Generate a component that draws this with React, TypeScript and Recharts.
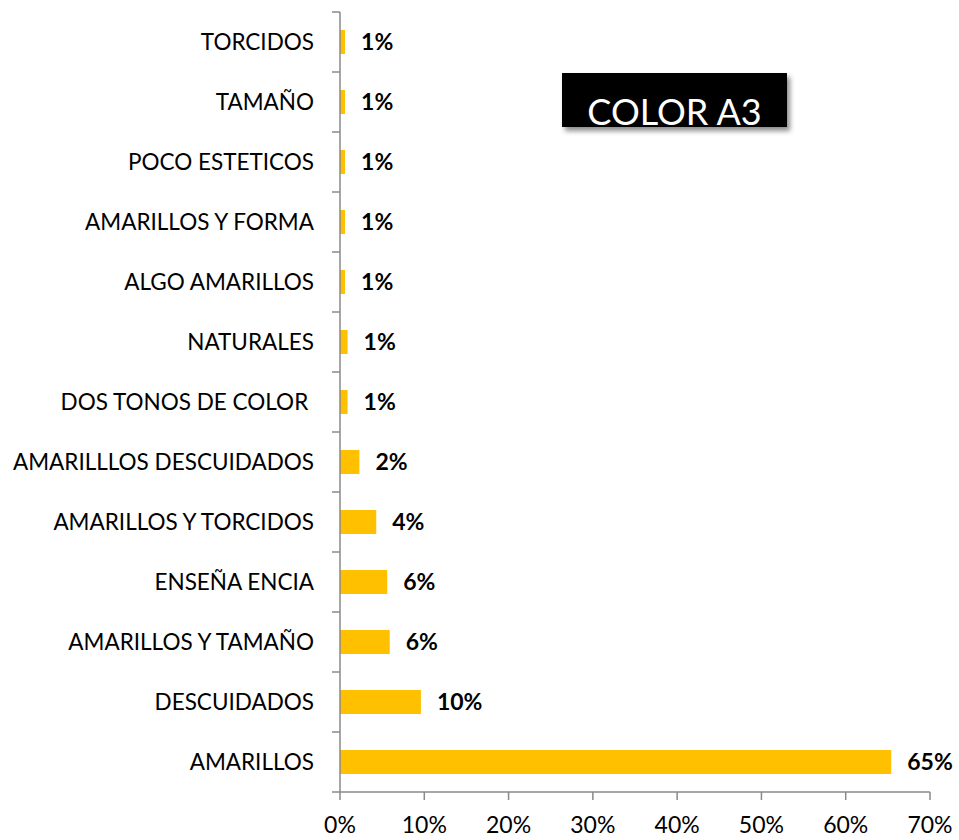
import { BarChart, Bar, XAxis, YAxis, LabelList } from 'recharts';

// ── Data (top to bottom as drawn) ─────────────────────────────────────────────

const CATEGORIES = [
  'TORCIDOS',
  'TAMAÑO',
  'POCO ESTETICOS',
  'AMARILLOS Y FORMA',
  'ALGO AMARILLOS',
  'NATURALES',
  'DOS TONOS DE COLOR ',
  'AMARILLLOS DESCUIDADOS',
  'AMARILLOS Y TORCIDOS',
  'ENSEÑA ENCIA',
  'AMARILLOS Y TAMAÑO',
  'DESCUIDADOS',
  'AMARILLOS',
];

const PERCENTS = [0.6, 0.6, 0.6, 0.6, 0.6, 0.9, 0.9, 2.3, 4.3, 5.6, 5.9, 9.6, 65.4];

const X_TICKS = [0, 10, 20, 30, 40, 50, 60, 70];

const TITLE = 'COLOR A3';

// ── Layout / style constants ──────────────────────────────────────────────────

const WIDTH = 959;
const HEIGHT = 840;
const MARGIN = { top: 12, right: 29, bottom: 0, left: 0 };
const Y_AXIS_W = 340;
const X_AXIS_H = 48;
const PLOT_H = HEIGHT - MARGIN.top - MARGIN.bottom - X_AXIS_H;
const BAND_HALF = PLOT_H / CATEGORIES.length / 2;

const FONT = 'Lato, "Open Sans", sans-serif';
const AXIS_GREY = '#8a8a8a';
const BAR_GOLD = '#FFC000';
const TICK_SIZE = 8;
const Y_TICK_MARGIN = 18;

const data = CATEGORIES.map((name, i) => ({ name, value: PERCENTS[i] }));

// ── Y tick: label plus a tick mark at the band edge (Excel style) ─────────────

function CategoryTick(props: any) {
  const { x, y, payload, index } = props;
  const lineX1 = x + Y_TICK_MARGIN;
  const lineX2 = lineX1 + TICK_SIZE;
  const last = index === CATEGORIES.length - 1;
  return (
    <g>
      <line x1={lineX1} x2={lineX2} y1={y - BAND_HALF} y2={y - BAND_HALF} stroke={AXIS_GREY} strokeWidth={1.5} />
      {last && (
        <line x1={lineX1} x2={lineX2} y1={y + BAND_HALF} y2={y + BAND_HALF} stroke={AXIS_GREY} strokeWidth={1.5} />
      )}
      <text
        x={x}
        y={y}
        dy="0.36em"
        textAnchor="end"
        fill="#000"
        fontSize={22.5}
        fontFamily={FONT}
        style={{ whiteSpace: 'pre' }}
      >
        {payload.value}
      </text>
    </g>
  );
}

export default function App() {
  return (
    <div style={{ position: 'absolute', left: 0, top: 0, width: WIDTH, height: HEIGHT, background: '#fff' }}>
      <BarChart
        width={WIDTH}
        height={HEIGHT}
        data={data}
        layout="vertical"
        margin={MARGIN}
      >
        <XAxis
          type="number"
          domain={[0, 70]}
          ticks={X_TICKS}
          tickFormatter={(v: number) => `${v}%`}
          height={X_AXIS_H}
          tickSize={TICK_SIZE}
          tickMargin={17}
          stroke={AXIS_GREY}
          strokeWidth={1.5}
          tick={{ fill: '#000', fontSize: 23, fontFamily: FONT }}
          interval={0}
        />
        <YAxis
          type="category"
          dataKey="name"
          width={Y_AXIS_W}
          tickSize={TICK_SIZE}
          tickMargin={Y_TICK_MARGIN}
          tickLine={false}
          stroke={AXIS_GREY}
          strokeWidth={1.5}
          interval={0}
          tick={<CategoryTick />}
        />
        <Bar dataKey="value" fill={BAR_GOLD} barSize={24} isAnimationActive={false}>
          <LabelList
            dataKey="value"
            position="right"
            offset={16}
            formatter={(v: any) => `${Math.round(Number(v))}%`}
            fill="#000"
            fontSize={23}
            fontWeight={700}
            fontFamily={FONT}
          />
        </Bar>
      </BarChart>

      <div
        style={{
          position: 'absolute',
          left: 562,
          top: 73,
          width: 225,
          height: 54,
          background: '#000',
          boxShadow: '3px 4px 5px rgba(0,0,0,0.45)',
        }}
      >
        <div
          style={{
            position: 'absolute',
            left: 0,
            right: 0,
            top: 20,
            textAlign: 'center',
            color: '#fff',
            fontFamily: FONT,
            fontSize: 36,
            lineHeight: 1,
            whiteSpace: 'nowrap',
          }}
        >
          {TITLE}
        </div>
      </div>
    </div>
  );
}
